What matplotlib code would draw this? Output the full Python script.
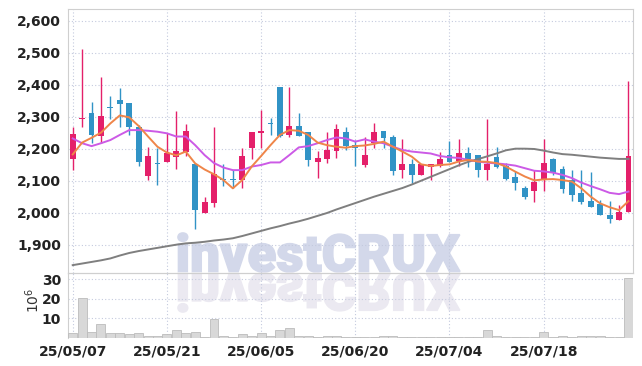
import matplotlib
matplotlib.use('Agg')
import matplotlib.pyplot as plt
import numpy as np
from matplotlib.textpath import TextPath
from matplotlib.patches import PathPatch
from matplotlib.font_manager import FontProperties
from matplotlib.transforms import Affine2D

# 日足データ (2025/05/07 - 2025/07/31)
opens = [2169, 2292, 2310, 2241, 2330, 2352, 2343, 2268, 2116, 2155,
         2158, 2175, 2191, 2152, 2000, 2031, 2103, 2103, 2102, 2203,
         2250, 2280, 2392, 2243, 2271, 2251, 2159, 2169, 2194, 2251,
         2210, 2150, 2219, 2255, 2237, 2134, 2152, 2119, 2144, 2147,
         2179, 2161, 2185, 2179, 2133, 2175, 2146, 2111, 2078, 2069,
         2101, 2167, 2135, 2102, 2062, 2036, 2027, 1993, 1977, 2001]
highs = [2269, 2510, 2345, 2425, 2366, 2391, 2343, 2274, 2204, 2201,
         2250, 2318, 2277, 2152, 2050, 2269, 2152, 2133, 2201, 2252,
         2321, 2295, 2392, 2392, 2310, 2251, 2194, 2253, 2276, 2269,
         2227, 2235, 2279, 2255, 2242, 2229, 2167, 2152, 2152, 2191,
         2225, 2229, 2206, 2179, 2292, 2206, 2154, 2131, 2083, 2132,
         2229, 2170, 2146, 2132, 2132, 2126, 2040, 2035, 2025, 2412]
lows = [2133, 2267, 2219, 2217, 2293, 2269, 2242, 2146, 2101, 2086,
        2158, 2135, 2177, 1950, 2000, 2017, 2083, 2076, 2076, 2167,
        2201, 2243, 2235, 2235, 2240, 2146, 2107, 2154, 2171, 2196,
        2146, 2144, 2202, 2202, 2118, 2107, 2092, 2119, 2102, 2144,
        2159, 2147, 2144, 2112, 2102, 2139, 2101, 2070, 2044, 2033,
        2067, 2118, 2060, 2035, 2027, 2019, 1994, 1969, 1977, 2001]
closes = [2246, 2297, 2243, 2302, 2328, 2341, 2268, 2158, 2177, 2153,
          2185, 2193, 2255, 2008, 2033, 2121, 2101, 2101, 2177, 2252,
          2255, 2278, 2240, 2271, 2240, 2165, 2171, 2196, 2260, 2209,
          2201, 2180, 2251, 2234, 2131, 2152, 2119, 2152, 2152, 2167,
          2159, 2185, 2167, 2133, 2152, 2144, 2105, 2094, 2050, 2096,
          2154, 2123, 2075, 2056, 2033, 2019, 1994, 1981, 2002, 2177]
volume = [2.1, 20.2, 2.6, 7.2, 2.1, 2.1, 1.6, 2.1, 1.0, 1.0,
          1.6, 3.9, 2.2, 2.7, 0.5, 9.5, 1.0, 0.5, 1.6, 1.0,
          2.2, 1.0, 3.9, 4.7, 1.0, 1.0, 0.5, 1.0, 1.0, 0.4,
          0.4, 0.4, 0.4, 1.0, 1.0, 0.4, 0.4, 0.4, 0.4, 0.4,
          0.4, 0.4, 0.4, 0.4, 4.1, 1.0, 0.4, 0.4, 0.4, 0.4,
          2.8, 0.4, 0.6, 0.4, 1.0, 0.6, 0.6, 0.4, 0.4, 30.5]

# 이동평균선
ma5 = [2182, 2219, 2234, 2250, 2279, 2304, 2298, 2271, 2238, 2206,
       2188, 2179, 2191, 2154, 2135, 2120, 2102, 2076, 2102, 2144,
       2177, 2211, 2243, 2258, 2256, 2243, 2219, 2211, 2206, 2203,
       2208, 2210, 2215, 2222, 2206, 2191, 2175, 2151, 2146, 2149,
       2151, 2160, 2165, 2160, 2159, 2155, 2144, 2128, 2113, 2101,
       2104, 2105, 2102, 2097, 2076, 2050, 2029, 2017, 2008, 2036]
ma20 = [2232, 2217, 2208, 2217, 2227, 2243, 2258, 2258, 2256, 2253,
        2248, 2238, 2238, 2211, 2180, 2155, 2141, 2133, 2133, 2144,
        2149, 2157, 2157, 2180, 2204, 2208, 2217, 2227, 2235, 2232,
        2222, 2229, 2222, 2217, 2206, 2196, 2191, 2188, 2185, 2177,
        2173, 2171, 2165, 2160, 2156, 2154, 2151, 2147, 2139, 2131,
        2129, 2125, 2118, 2108, 2094, 2083, 2073, 2062, 2058, 2066]
ma60 = [1836, 1841, 1846, 1851, 1857, 1866, 1874, 1880, 1885, 1890,
        1895, 1900, 1904, 1906, 1909, 1913, 1916, 1920, 1927, 1935,
        1943, 1951, 1958, 1966, 1973, 1981, 1990, 1999, 2010, 2020,
        2030, 2040, 2050, 2059, 2068, 2077, 2088, 2100, 2112, 2124,
        2136, 2148, 2159, 2167, 2176, 2185, 2195, 2200, 2200, 2199,
        2194, 2188, 2183, 2181, 2178, 2175, 2172, 2170, 2168, 2168]

date_pos = [0, 10, 20, 30, 40, 50]
date_labels = ['25/05/07', '25/05/21', '25/06/05', '25/06/20', '25/07/04', '25/07/18']
price_ticks = [1900, 2000, 2100, 2200, 2300, 2400, 2500, 2600]
price_labels = ['1,900', '2,000', '2,100', '2,200', '2,300', '2,400', '2,500', '2,600']
vol_ticks = [10, 20, 30]
vol_labels = ['10', '20', '30']

plt.rcParams['font.family'] = ['Liberation Sans Narrow', 'DejaVu Sans']

RED = '#e4206a'
BLUE = '#3193c6'
GRID = '#c4cade'
SPINE = '#cfcfcf'

fig = plt.figure(figsize=(6.42, 3.66), dpi=100)
fig.patch.set_facecolor('white')
W, H = 642.0, 366.0
ax = fig.add_axes([68 / W, 1 - 272.5 / H, 564.5 / W, 263.2 / H])
axv = fig.add_axes([68 / W, 1 - 337.5 / H, 564.5 / W, 65 / H])
for a in (ax, axv):
    a.set_facecolor('none')

# 워터마크 (investCRUX + 반사)
tp = TextPath((0, 0), 'investCRUX', size=100,
              prop=FontProperties(family=['Roboto', 'DejaVu Sans'], weight='black'))
ext = tp.get_extents()
sx = 282.0 / ext.width
sy = 39.0 / ext.height
to_fig = Affine2D().scale(1 / W, 1 / H)
t_main = (Affine2D().translate(-ext.x0, -ext.y0).scale(sx, sy)
          .translate(178, H - 272) + to_fig + fig.transFigure)
t_refl = (Affine2D().translate(-ext.x0, -ext.y0).scale(sx, -sy)
          .translate(178, H - 273) + to_fig + fig.transFigure)
fig.add_artist(PathPatch(tp, transform=t_main, facecolor='#d3d8ea',
                         edgecolor='#d3d8ea', linewidth=1.2, zorder=-1))
fig.add_artist(PathPatch(tp, transform=t_refl, facecolor='#ebe9f1',
                         edgecolor='#ebe9f1', linewidth=1.2, zorder=-1))

x = np.arange(len(closes))
o = np.array(opens)
c = np.array(closes)
cols = np.where(c >= o, RED, BLUE)
ax.vlines(x, lows, highs, colors=cols, linewidth=1.0, zorder=3)
ax.bar(x, np.maximum(np.abs(c - o), 3), bottom=np.minimum(o, c), width=0.62,
       color=cols, linewidth=0, zorder=3)
ax.plot(x, ma60, color='#7f7f7f', linewidth=1.4, zorder=4)
ax.plot(x, ma20, color='#cc5ae6', linewidth=1.4, zorder=4)
ax.plot(x, ma5, color='#ef8549', linewidth=1.4, zorder=5)

ax.set_xlim(-0.5, 59.43)
ax.set_ylim(1813, 2635.6)
ax.set_yticks(price_ticks)
ax.set_yticklabels(price_labels)
ax.set_xticks(date_pos)
ax.tick_params(labelbottom=False, length=0, pad=5, labelsize=10, labelcolor='#222222')
ax.grid(True, color=GRID, linestyle=(0, (1, 2)), linewidth=0.8, zorder=0)
for s in ax.spines.values():
    s.set_color(SPINE)

axv.bar(x, volume, width=0.95, color='#d8d8d8', edgecolor='#bcbcbc',
        linewidth=0.6, zorder=3)
axv.set_xlim(-0.5, 59.43)
axv.set_ylim(0, 33.5)
axv.set_yticks(vol_ticks)
axv.set_yticklabels(vol_labels)
axv.set_xticks(date_pos)
axv.set_xticklabels(date_labels)
axv.tick_params(length=0, pad=5, labelsize=10, labelcolor='#222222')
axv.grid(True, color=GRID, linestyle=(0, (1, 2)), linewidth=0.8, zorder=0)
for k, s in axv.spines.items():
    s.set_color(SPINE)
    if k in ('bottom', 'right'):
        s.set_visible(False)
for lab in ax.get_yticklabels() + axv.get_yticklabels() + axv.get_xticklabels():
    lab.set_fontweight('bold')

fig.text(33 / W, 1 - 300 / H, r'$10^{6}$', rotation=90, ha='center',
         va='center', fontsize=10, color='#333333')

fig.savefig('out.png', dpi=100)
